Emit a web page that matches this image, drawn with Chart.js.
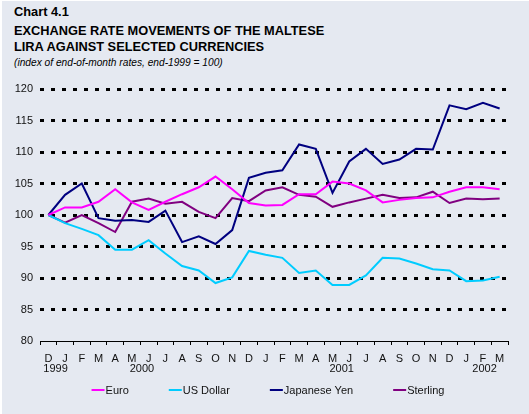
<!DOCTYPE html>
<html>
<head>
<meta charset="utf-8">
<script src="https://cdn.jsdelivr.net/npm/chart.js@4"></script>
<style>
  html, body { margin: 0; padding: 0; background: #ffffff; }
  #wrap { position: absolute; left: 2px; top: 1px; width: 527px; height: 413px; background: #e5e9f1; overflow: hidden; }
  #cv { position: absolute; left: -2px; top: -1px; }
  .t { position: absolute; left: 12px; white-space: nowrap; font-family: 'Liberation Sans', Arial, sans-serif; color: #000; line-height: 1; }
  .b { font-weight: bold; font-size: 12.8px; }
  .s { font-style: italic; font-size: 10.2px; }
</style>
</head>
<body>
<div id="wrap">
  <div class="t b" style="top:5px">Chart 4.1</div>
  <div class="t b" style="top:24px">EXCHANGE RATE MOVEMENTS OF THE MALTESE</div>
  <div class="t b" style="top:40px">LIRA AGAINST SELECTED CURRENCIES</div>
  <div class="t s" style="top:57px">(index of end-of-month rates, end-1999 = 100)</div>
  <canvas id="cv" width="529" height="414"></canvas>
</div>
<script>
const months = ['D','J','F','M','A','M','J','J','A','S','O','N','D','J','F','M','A','M','J','J','A','S','O','N','D','J','F','M'];
const years = ['1999','2000','2001','2002'];
const seriesNames = ['Euro','US Dollar','Japanese Yen','Sterling'];
const euro = [100, 101.2, 101.2, 102.1, 104.1, 102.0, 100.8, 102.1, 103.3, 104.4, 106.1, 104.1, 101.9, 101.5, 101.6, 103.3, 103.3, 105.3, 105.0, 103.9, 102.0, 102.4, 102.7, 102.8, 103.7, 104.4, 104.4, 104.1];
const usDollar = [100, 98.7, 97.8, 96.8, 94.5, 94.5, 96.0, 93.9, 91.9, 91.2, 89.2, 90.1, 94.3, 93.7, 93.2, 90.8, 91.2, 88.9, 88.9, 90.4, 93.2, 93.1, 92.3, 91.4, 91.2, 89.5, 89.6, 90.2];
const yen = [100, 103.2, 105.0, 99.5, 99.1, 99.2, 98.9, 100.7, 95.7, 96.6, 95.4, 97.6, 105.9, 106.7, 107.1, 111.2, 110.5, 103.5, 108.5, 110.5, 108.1, 108.8, 110.5, 110.4, 117.4, 116.8, 117.8, 116.9];
const sterling = [100, 98.8, 100, 98.7, 97.3, 102.1, 102.6, 101.8, 102.1, 100.5, 99.5, 102.7, 102.2, 103.9, 104.4, 103.2, 102.9, 101.3, 102.0, 102.6, 103.2, 102.7, 102.8, 103.7, 101.9, 102.6, 102.5, 102.6];

const FONT = "'Liberation Sans', Arial, sans-serif";
const colors = ['#ff00ff', '#00ccff', '#000080', '#800080'];
const values = [euro, usDollar, yen, sterling];

// year label anchors (category-unit offsets where each year caption sits)
const yearAnchor = [0.43, 5.6, 17.55, 26.1];

const yearPlugin = {
  id: 'yearLabels',
  afterDraw(chart) {
    const ctx = chart.ctx;
    const xs = chart.scales.x;
    const step = xs.getPixelForValue(1) - xs.getPixelForValue(0);
    ctx.save();
    ctx.font = '11px ' + FONT;
    ctx.fillStyle = '#111';
    ctx.textAlign = 'center';
    ctx.textBaseline = 'alphabetic';
    years.forEach((y, i) => {
      const x = xs.getPixelForValue(0) + yearAnchor[i] * step;
      ctx.fillText(y, x, 372);
    });
    ctx.restore();
  }
};

const legendPlugin = {
  id: 'customLegend',
  afterDraw(chart) {
    const ctx = chart.ctx;
    ctx.save();
    ctx.font = '11px ' + FONT;
    ctx.textBaseline = 'middle';
    const lineLen = 13, gapTxt = 1, gapItem = 40;
    const items = chart.data.datasets.map(d => ({ label: d.label, color: d.borderColor, w: lineLen + gapTxt + ctx.measureText(d.label).width }));
    const total = items.reduce((a, it) => a + it.w, 0) + gapItem * (items.length - 1);
    let x = 268 - total / 2;
    const y = 390;
    items.forEach(it => {
      ctx.strokeStyle = it.color;
      ctx.lineWidth = 2;
      ctx.beginPath();
      ctx.moveTo(x, y);
      ctx.lineTo(x + lineLen, y);
      ctx.stroke();
      ctx.fillStyle = '#111';
      ctx.fillText(it.label, x + lineLen + gapTxt, y + 0.5);
      x += it.w + gapItem;
    });
    ctx.restore();
  }
};

new Chart(document.getElementById('cv'), {
  type: 'line',
  data: {
    labels: months,
    datasets: seriesNames.map((n, i) => ({
      label: n,
      data: values[i],
      borderColor: colors[i],
      backgroundColor: colors[i],
      borderWidth: 2,
      pointRadius: 0,
      tension: 0,
      fill: false
    }))
  },
  options: {
    responsive: false,
    animation: false,
    layout: { padding: { top: 89, left: 8, right: 21, bottom: 0 } },
    plugins: { legend: { display: false }, tooltip: { enabled: false } },
    scales: {
      x: {
        offset: true,
        grid: { drawOnChartArea: false, drawTicks: true, tickLength: 4, color: '#000', lineWidth: 1, offset: true },
        border: { display: true, color: '#000', width: 1 },
        ticks: { autoSkip: false, maxRotation: 0, minRotation: 0, padding: 7, color: '#111', font: { family: FONT, size: 11 } },
        afterFit: s => { s.height = 73; }
      },
      y: {
        min: 80, max: 120,
        ticks: { stepSize: 5, padding: 7, color: '#111', font: { family: FONT, size: 11 } },
        grid: {
          drawTicks: false,
          lineWidth: 3,
          color: c => (c.tick && c.tick.value === 80) ? 'rgba(0,0,0,0)' : '#000'
        },
        border: { display: false, dash: [4, 7] },
        afterFit: s => { s.width = 32; }
      }
    }
  },
  plugins: [yearPlugin, legendPlugin]
});
</script>
</body>
</html>
